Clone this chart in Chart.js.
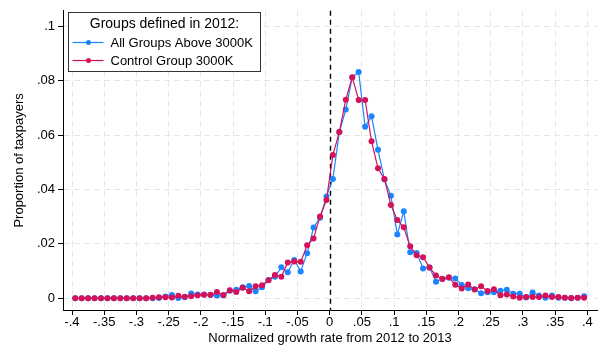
<!DOCTYPE html>
<html>
<head>
<meta charset="utf-8">
<script src="https://cdn.jsdelivr.net/npm/chart.js@4.4.1/dist/chart.umd.min.js"></script>
<style>
  html, body { margin: 0; padding: 0; background: #fff; }
  #chartBox { width: 601px; height: 345px; position: relative; }
</style>
</head>
<body>
<div id="chartBox"><canvas id="ChartCanvas"></canvas></div>
<script>
var chartContext = document.getElementById("ChartCanvas").getContext("2d");

// bin centres of the normalized growth rate (bins of width .01)
var binCenters = [
    -0.395, -0.385, -0.375, -0.365, -0.355, -0.345, -0.335, -0.325, -0.315, -0.305,
    -0.295, -0.285, -0.275, -0.265, -0.255, -0.245, -0.235, -0.225, -0.215, -0.205,
    -0.195, -0.185, -0.175, -0.165, -0.155, -0.145, -0.135, -0.125, -0.115, -0.105,
    -0.095, -0.085, -0.075, -0.065, -0.055, -0.045, -0.035, -0.025, -0.015, -0.005,
    0.005, 0.015, 0.025, 0.035, 0.045, 0.055, 0.065, 0.075, 0.085, 0.095,
    0.105, 0.115, 0.125, 0.135, 0.145, 0.155, 0.165, 0.175, 0.185, 0.195,
    0.205, 0.215, 0.225, 0.235, 0.245, 0.255, 0.265, 0.275, 0.285, 0.295,
    0.305, 0.315, 0.325, 0.335, 0.345, 0.355, 0.365, 0.375, 0.385, 0.395
];

// share of taxpayers per bin, all groups above 3000K
var aboveShares = [
    0, 0, 0, 0, 0, 0, 0, 0, 0, 0,
    0, 0, 0, 0.0001, 0.0007, 0.0012, 0.0001, 0.0004, 0.0018, 0.0014,
    0.0014, 0.0012, 0.0010, 0.0010, 0.0028, 0.0031, 0.0041, 0.0045, 0.0026, 0.0041,
    0.0067, 0.0079, 0.0114, 0.0096, 0.0141, 0.0099, 0.0166, 0.0260, 0.0296, 0.0374,
    0.0439, 0.0611, 0.0694, 0.0812, 0.0832, 0.0631, 0.0669, 0.0546, 0.0437, 0.0377,
    0.0235, 0.0320, 0.0169, 0.0167, 0.0110, 0.0113, 0.0061, 0.0072, 0.0076, 0.0073,
    0.0049, 0.0037, 0.0033, 0.0019, 0.0022, 0.0022, 0.0028, 0.0031, 0.0017, 0.0017,
    0.0003, 0.0021, 0.0010, 0.0002, 0.0010, 0.0002, 0.0002, 0.0000, 0.0002, 0.0008
];

// share of taxpayers per bin, control group 3000K
var controlShares = [
    0, 0, 0, 0, 0, 0, 0, 0, 0, 0,
    0, 0, 0.0002, 0.0004, 0.0004, 0.0003, 0.0009, 0.0006, 0.0008, 0.0011,
    0.0013, 0.0013, 0.0023, 0.0012, 0.0030, 0.0023, 0.0039, 0.0026, 0.0044, 0.0048,
    0.0066, 0.0086, 0.0079, 0.0132, 0.0135, 0.0134, 0.0195, 0.0220, 0.0301, 0.0361,
    0.0527, 0.0611, 0.0730, 0.0813, 0.0729, 0.0729, 0.0577, 0.0478, 0.0439, 0.0343,
    0.0288, 0.0261, 0.0191, 0.0158, 0.0151, 0.0113, 0.0084, 0.0071, 0.0077, 0.0050,
    0.0036, 0.0051, 0.0032, 0.0044, 0.0027, 0.0033, 0.0011, 0.0014, 0.0007, 0.0002,
    0.0005, 0.0005, 0.0005, 0.0010, 0.0005, 0.0005, 0.0002, 0.0001, 0.0002, 0.0002
];

var xTicks = [-0.4, -0.35, -0.3, -0.25, -0.2, -0.15, -0.1, -0.05, 0, 0.05, 0.1, 0.15, 0.2, 0.25, 0.3, 0.35, 0.4];
var yTicks = [0, 0.02, 0.04, 0.06, 0.08, 0.1];

var legendTitle = "Groups defined in 2012:";
var blueColor = '#1A85FF';
var redColor = '#D41159';
var fontFamily = "'Liberation Sans', Arial, sans-serif";

// Stata style numbers: no leading zero (".05", "-.4")
function stataLabel(value) {
    var s = (+value.toFixed(3)).toString();
    return s.replace(/^(-?)0\./, '$1.');
}

function toPoints(values) {
    return binCenters.map((x, i) => ({ x: x, y: values[i] }));
}

// vertical dashed reference line at zero growth
var zeroLinePlugin = {
    id: 'zeroLine',
    beforeDatasetsDraw(chart) {
        var ctx = chart.ctx;
        var area = chart.chartArea;
        var x = Math.round(chart.scales.x.getPixelForValue(0)) + 0.5;
        ctx.save();
        ctx.strokeStyle = '#000';
        ctx.lineWidth = 1.4;
        ctx.setLineDash([5, 4]);
        ctx.beginPath();
        ctx.moveTo(x, area.top);
        ctx.lineTo(x, area.bottom);
        ctx.stroke();
        ctx.restore();
    }
};

// boxed legend in the upper left corner, with a title line
var boxLegendPlugin = {
    id: 'boxLegend',
    afterDatasetsDraw(chart) {
        var ctx = chart.ctx;
        var left = 68.5, top = 12.5, width = 192, height = 59;
        ctx.save();
        ctx.fillStyle = '#fff';
        ctx.fillRect(left, top, width, height);
        ctx.strokeStyle = '#333';
        ctx.lineWidth = 1;
        ctx.strokeRect(left, top, width, height);

        ctx.fillStyle = '#000';
        ctx.textBaseline = 'middle';
        ctx.textAlign = 'center';
        ctx.font = '14px ' + fontFamily;
        ctx.fillText(legendTitle, left + width / 2, top + 12);

        ctx.textAlign = 'left';
        ctx.font = '13px ' + fontFamily;
        var rows = [chart.data.datasets[0], chart.data.datasets[1]];
        rows.forEach((ds, i) => {
            var y = top + 30 + i * 18;
            ctx.strokeStyle = ds.borderColor;
            ctx.lineWidth = 1.2;
            ctx.beginPath();
            ctx.moveTo(left + 4, y);
            ctx.lineTo(left + 35, y);
            ctx.stroke();
            ctx.fillStyle = ds.borderColor;
            ctx.beginPath();
            ctx.arc(left + 20, y, 2.5, 0, Math.PI * 2);
            ctx.fill();
            ctx.fillStyle = '#000';
            ctx.fillText(ds.label, left + 42, y + 1);
        });
        ctx.restore();
    }
};

function createChart() {
    const config = {
        type: 'line',
        data: {
            datasets: [
                {
                    label: 'All Groups Above 3000K',
                    data: toPoints(aboveShares),
                    borderColor: blueColor,
                    backgroundColor: blueColor,
                    borderWidth: 1.2,
                    pointRadius: 3,
                    pointBorderWidth: 0,
                    order: 1
                },
                {
                    label: 'Control Group 3000K',
                    data: toPoints(controlShares),
                    borderColor: redColor,
                    backgroundColor: redColor,
                    borderWidth: 1.2,
                    pointRadius: 3,
                    pointBorderWidth: 0,
                    order: 0 // drawn on top of the blue series
                }
            ]
        },
        options: {
            responsive: true,
            maintainAspectRatio: false,
            animation: false,
            devicePixelRatio: 1,
            layout: { padding: { top: 2, right: 1, left: 0, bottom: 0 } },
            plugins: {
                legend: { display: false },
                tooltip: { enabled: false }
            },
            scales: {
                x: {
                    type: 'linear',
                    min: -0.414,
                    max: 0.415,
                    afterBuildTicks: scale => { scale.ticks = xTicks.map(v => ({ value: v })); },
                    afterFit: scale => { scale.height = 35; },
                    ticks: {
                        color: '#000',
                        font: { family: fontFamily, size: 13 },
                        padding: 0,
                        maxRotation: 0,
                        autoSkip: false,
                        callback: value => stataLabel(value)
                    },
                    grid: {
                        color: ctx => (ctx.tick && ctx.tick.value === 0) ? 'rgba(0,0,0,0)' : '#e6e6e6',
                        lineWidth: 1,
                        tickColor: '#000',
                        tickLength: 5,
                        tickWidth: 1
                    },
                    border: { display: true, color: '#000', width: 1, dash: [6, 4] },
                    title: {
                        display: true,
                        text: 'Normalized growth rate from 2012 to 2013',
                        color: '#000',
                        font: { family: fontFamily, size: 13, lineHeight: 1 },
                        padding: { top: 0, bottom: 0 }
                    }
                },
                y: {
                    type: 'linear',
                    min: -0.0043,
                    max: 0.1057,
                    afterBuildTicks: scale => { scale.ticks = yTicks.map(v => ({ value: v })); },
                    afterFit: scale => { scale.width = 63; },
                    ticks: {
                        color: '#000',
                        font: { family: fontFamily, size: 13 },
                        padding: 3,
                        autoSkip: false,
                        callback: value => stataLabel(value)
                    },
                    grid: {
                        color: '#e6e6e6',
                        lineWidth: 1,
                        tickColor: '#000',
                        tickLength: 5,
                        tickWidth: 1
                    },
                    border: { display: true, color: '#000', width: 1, dash: [6, 4] },
                    title: {
                        display: true,
                        text: 'Proportion of taxpayers',
                        color: '#000',
                        font: { family: fontFamily, size: 13 },
                        padding: { top: 12, bottom: 0 }
                    }
                }
            }
        },
        plugins: [zeroLinePlugin, boxLegendPlugin]
    };

    return new Chart(chartContext, config);
}

var createdChart = createChart();
</script>
</body>
</html>
